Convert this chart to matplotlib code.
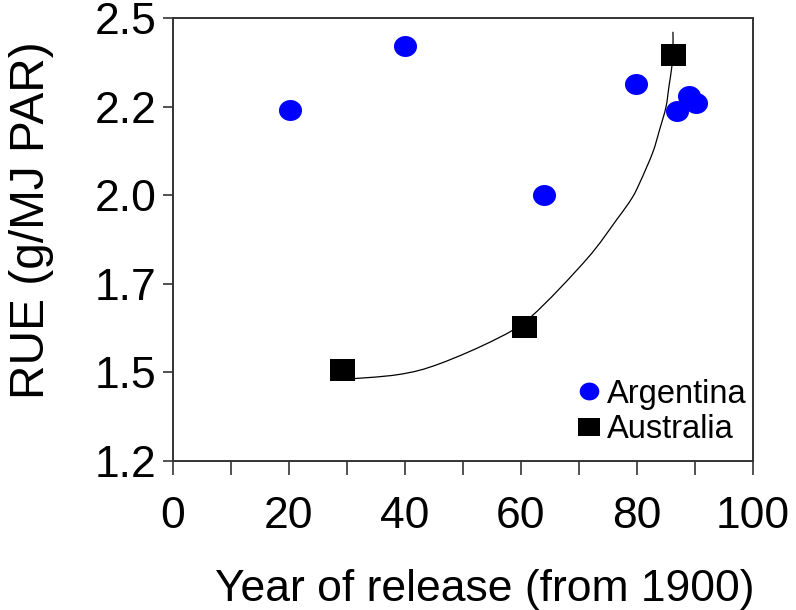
import numpy as np
import matplotlib
matplotlib.use("Agg")
import matplotlib.pyplot as plt
from matplotlib.ticker import MultipleLocator
from matplotlib.path import Path
from matplotlib.patches import PathPatch

plt.rcParams["font.family"] = ["Liberation Sans", "DejaVu Sans"]

# Radiation use efficiency vs year of cultivar release
arg_year = [20.2, 40, 64, 79.9, 86.9, 88.9, 90.1]
arg_rue = [2.24, 2.42, 2.00, 2.314, 2.238, 2.28, 2.261]

aus_year = [29.2, 60.5, 86.2]
aus_rue = [1.506, 1.627, 2.396]

# Fitted trend through the Australian cultivars
trend_year = [29.1, 38.9, 45.9, 55.7, 61.8, 71.3, 76.5, 79.1, 80.5,
              82.7, 83.9, 85.0, 85.5, 86.0, 86.2, 86.2]
trend_rue = [1.480, 1.494, 1.524, 1.594, 1.658, 1.819, 1.931, 1.991,
             2.036, 2.120, 2.185, 2.249, 2.306, 2.362, 2.410, 2.461]

y_ticks = [1.25, 1.5, 1.75, 2.0, 2.25, 2.5]
y_tick_labels = ["1.2", "1.5", "1.7", "2.0", "2.2", "2.5"]
x_ticks = [0, 20, 40, 60, 80, 100]

fig = plt.figure(figsize=(7.96, 6.10), dpi=100)
ax = fig.add_axes([173 / 796, 1 - 461 / 610, 580 / 796, 443 / 610])

# smooth trend line: Catmull-Rom segments as cubic Bezier path
pts = np.column_stack([trend_year, trend_rue])
verts = [pts[0]]
codes = [Path.MOVETO]
n = len(pts)
for i in range(n - 1):
    p0 = pts[i - 1] if i > 0 else pts[i]
    p3 = pts[i + 2] if i + 2 < n else pts[i + 1]
    c1 = pts[i] + (pts[i + 1] - p0) / 6.0
    c2 = pts[i + 1] - (p3 - pts[i]) / 6.0
    verts += [c1, c2, pts[i + 1]]
    codes += [Path.CURVE4] * 3
ax.add_patch(PathPatch(Path(verts, codes), fill=False, edgecolor="black",
                       lw=0.9, zorder=2))

# slightly wide marker shapes
t = np.linspace(0, 2 * np.pi, 60)
oval = np.column_stack([np.cos(t), 0.91 * np.sin(t)])
rect = [(-1, -0.88), (1, -0.88), (1, 0.88), (-1, 0.88), (-1, -0.88)]

ax.plot(arg_year, arg_rue, linestyle="none", marker=oval, ms=16.6,
        color="#0000FF", mec="#0000FF", mew=0, label="Argentina", zorder=3)
ax.plot(aus_year, aus_rue, linestyle="none", marker=rect, ms=18,
        color="black", mec="black", mew=0, label="Australia", zorder=4)

ax.set_xlim(0, 100)
ax.set_ylim(1.25, 2.5)
ax.set_xticks(x_ticks)
ax.xaxis.set_minor_locator(MultipleLocator(10))
ax.set_yticks(y_ticks)
ax.set_yticklabels(y_tick_labels)

for s in ax.spines.values():
    s.set_color("#333333")
    s.set_linewidth(1.4)

ax.tick_params(axis="x", which="both", direction="out", length=10, width=1.2,
               color="#333333", labelsize=32, pad=15)
ax.tick_params(axis="y", which="major", direction="out", length=7, width=1.2,
               color="#333333", labelsize=32, pad=5)

ax.set_xlabel("Year of release (from 1900)", fontsize=32)
ax.xaxis.set_label_coords(0.538, -0.244)
ax.set_ylabel("RUE (g/MJ PAR)", fontsize=34.5)
ax.yaxis.set_label_coords(-0.205, 0.543)

ax.legend(loc="upper left", bbox_to_anchor=(0.666, 0.223), frameon=False,
          fontsize=23.5, handlelength=0.8, handletextpad=0.15, labelspacing=0.15,
          borderpad=0, markerscale=0.85)

fig.savefig("out.png", dpi=100)
